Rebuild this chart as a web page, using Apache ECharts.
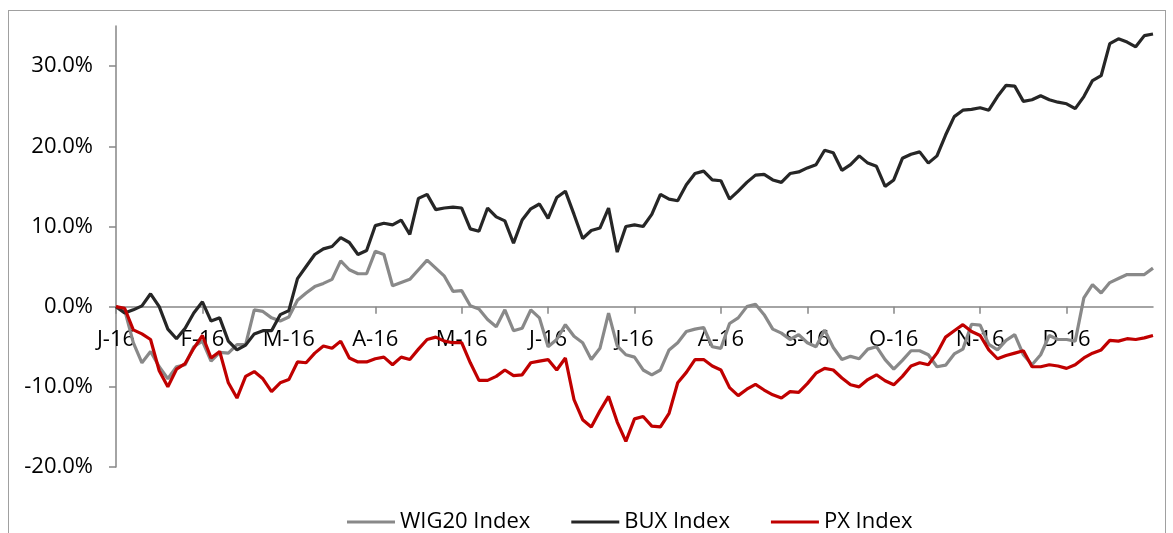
<!DOCTYPE html>
<html>
<head>
<meta charset="utf-8">
<script src="https://cdn.jsdelivr.net/npm/echarts@6.0.0/dist/echarts.min.js"></script>
<style>
html, body { margin: 0; padding: 0; background: #fff; }
#main { width: 1173px; height: 533px; }
#frame { position: absolute; left: 8px; top: 10px; width: 1156px; height: 540px; border: 1.5px solid #a0a0a0; pointer-events: none; }
</style>
</head>
<body>
<div id="main"></div>
<div id="frame"></div>
<script>
// month labels, one per tick
var months = ['J-16', 'F-16', 'M-16', 'A-16', 'M-16', 'J-16', 'J-16', 'A-16', 'S-16', 'O-16', 'N-16', 'D-16'];
var yTicks = [-20, -10, 0, 10, 20, 30];
// one sample every 0.1 month, values in %
var step = 0.1;

var wig20 = [0, -0.4, -4.5, -7.0, -5.6, -7.5, -9.0, -7.5, -7.25, -5.0,
	-4.3, -6.8, -5.7, -5.8, -4.75, -4.75, -0.4, -0.6, -1.4, -1.8,
	-1.3, 0.8, 1.7, 2.5, 2.9, 3.4, 5.7, 4.6, 4.1, 4.1,
	6.9, 6.5, 2.6, 3.0, 3.4, 4.6, 5.8, 4.8, 3.8, 1.9,
	2.0, 0.1, -0.3, -1.6, -2.5, -0.4, -3.0, -2.7, -0.4, -1.4,
	-5.0, -4.1, -2.25, -3.7, -4.5, -6.6, -5.2, -0.8, -4.9, -6.0,
	-6.3, -7.9, -8.5, -7.9, -5.4, -4.5, -3.1, -2.8, -2.6, -5.0,
	-5.2, -2.1, -1.4, 0.0, 0.3, -1.0, -2.8, -3.3, -4.1, -3.5,
	-4.5, -5.0, -2.9, -5.1, -6.6, -6.2, -6.5, -5.3, -5.0, -6.6,
	-7.8, -6.7, -5.5, -5.5, -6.0, -7.5, -7.3, -5.9, -5.3, -2.2,
	-2.3, -4.7, -5.4, -4.2, -3.5, -6.0, -7.25, -6.0, -3.6, -4.1,
	-4.1, -4.3, 1.1, 2.75, 1.7, 3.0, 3.5, 4.0, 4.0, 4.0,
	4.8];

var bux = [0, -0.8, -0.4, 0.1, 1.6, 0.0, -2.8, -4.0, -2.7, -0.8,
	0.6, -1.8, -1.4, -4.3, -5.4, -4.8, -3.4, -3.0, -3.0, -1.0,
	-0.5, 3.5, 5.0, 6.5, 7.2, 7.5, 8.6, 8.0, 6.5, 7.0,
	10.1, 10.4, 10.2, 10.8, 9.0, 13.5, 14.0, 12.1, 12.3, 12.4,
	12.3, 9.7, 9.4, 12.3, 11.2, 10.7, 7.9, 10.8, 12.2, 12.8,
	11.0, 13.6, 14.4, 11.5, 8.5, 9.5, 9.8, 12.3, 6.8, 10.0,
	10.2, 10.0, 11.5, 14.0, 13.4, 13.2, 15.2, 16.6, 16.9, 15.8,
	15.7, 13.4, 14.4, 15.5, 16.4, 16.5, 15.8, 15.5, 16.6, 16.8,
	17.3, 17.7, 19.5, 19.2, 17.0, 17.7, 18.8, 17.9, 17.5, 15.0,
	15.8, 18.5, 19.0, 19.3, 17.9, 18.8, 21.4, 23.7, 24.5, 24.6,
	24.8, 24.5, 26.2, 27.6, 27.5, 25.6, 25.8, 26.3, 25.8, 25.5,
	25.3, 24.7, 26.2, 28.2, 28.8, 32.8, 33.4, 33.0, 32.4, 33.8,
	34.0];

var pxIndex = [0, -0.2, -2.9, -3.4, -4.1, -8.0, -10.0, -7.8, -7.1, -5.2,
	-3.6, -6.4, -5.6, -9.5, -11.4, -8.7, -8.1, -9.0, -10.6, -9.5,
	-9.1, -6.9, -7.0, -5.8, -4.9, -5.2, -4.3, -6.4, -6.9, -6.9,
	-6.5, -6.3, -7.25, -6.3, -6.6, -5.3, -4.1, -3.8, -4.3, -4.5,
	-4.5, -7.0, -9.2, -9.2, -8.7, -7.9, -8.6, -8.5, -7.0, -6.8,
	-6.6, -7.9, -6.4, -11.6, -14.1, -15.0, -13.0, -11.2, -14.4, -16.8,
	-14.0, -13.7, -14.9, -15.0, -13.3, -9.5, -8.2, -6.6, -6.6, -7.4,
	-7.9, -10.1, -11.1, -10.3, -9.7, -10.4, -11.0, -11.4, -10.6, -10.7,
	-9.6, -8.3, -7.7, -7.9, -8.9, -9.75, -10.0, -9.1, -8.5, -9.25,
	-9.75, -8.7, -7.4, -7.0, -7.25, -5.8, -3.8, -3.0, -2.25, -3.1,
	-3.6, -5.4, -6.5, -6.1, -5.8, -5.5, -7.5, -7.5, -7.25, -7.4,
	-7.7, -7.25, -6.4, -5.8, -5.4, -4.2, -4.3, -4.0, -4.1, -3.9,
	-3.6];

function toPoints(arr) {
	return arr.map(function (v, i) { return [i * step, v]; });
}

var monthTicks = months.map(function (m, i) { return i; });
var font = '"Open Sans", sans-serif';

var myChart = echarts.init(document.getElementById('main'));

var option = {
	animation: false,
	backgroundColor: '#fff',
	grid: { left: 116, right: 20, top: 26, bottom: 66 },
	legend: {
		left: 342,
		top: 506,
		icon: 'rect',
		itemWidth: 48,
		itemHeight: 3,
		itemGap: 41,
		textStyle: { fontFamily: font, fontSize: 22, color: '#000' },
		data: ['WIG20 Index', 'BUX Index', 'PX Index']
	},
	xAxis: {
		type: 'value',
		min: 0,
		max: 12,
		interval: 1,
		position: 'bottom',
		// the axis crosses the y axis at 0%
		offset: -160,
		axisLine: { onZero: true, onZeroAxisIndex: 0, lineStyle: { color: '#868686', width: 1.5 } },
		axisTick: { show: true, length: 7, customValues: monthTicks, lineStyle: { color: '#868686', width: 1.5 } },
		axisLabel: {
			customValues: monthTicks,
			margin: 22,
			fontFamily: font,
			fontSize: 22,
			color: '#000',
			formatter: function (v) { return months[Math.round(v)] || ''; }
		},
		splitLine: { show: false }
	},
	yAxis: {
		type: 'value',
		min: -20,
		max: 35,
		interval: 10,
		axisLine: { show: true, onZero: false, lineStyle: { color: '#868686', width: 1.5 } },
		axisTick: { show: true, length: 7, customValues: yTicks, lineStyle: { color: '#868686', width: 1.5 } },
		axisLabel: {
			customValues: yTicks,
			margin: 23,
			fontFamily: font,
			fontSize: 22,
			color: '#000',
			formatter: function (v) { return v.toFixed(1) + '%'; }
		},
		splitLine: { show: false }
	},
	series: [
		{
			name: 'WIG20 Index',
			type: 'line',
			symbol: 'none',
			itemStyle: { color: '#898989' },
			lineStyle: { color: '#898989', width: 3.2 },
			data: toPoints(wig20)
		},
		{
			name: 'BUX Index',
			type: 'line',
			symbol: 'none',
			itemStyle: { color: '#262626' },
			lineStyle: { color: '#262626', width: 3.2 },
			data: toPoints(bux)
		},
		{
			name: 'PX Index',
			type: 'line',
			symbol: 'none',
			itemStyle: { color: '#c00000' },
			lineStyle: { color: '#c00000', width: 3.2 },
			data: toPoints(pxIndex)
		}
	]
};

myChart.setOption(option);
</script>
</body>
</html>
